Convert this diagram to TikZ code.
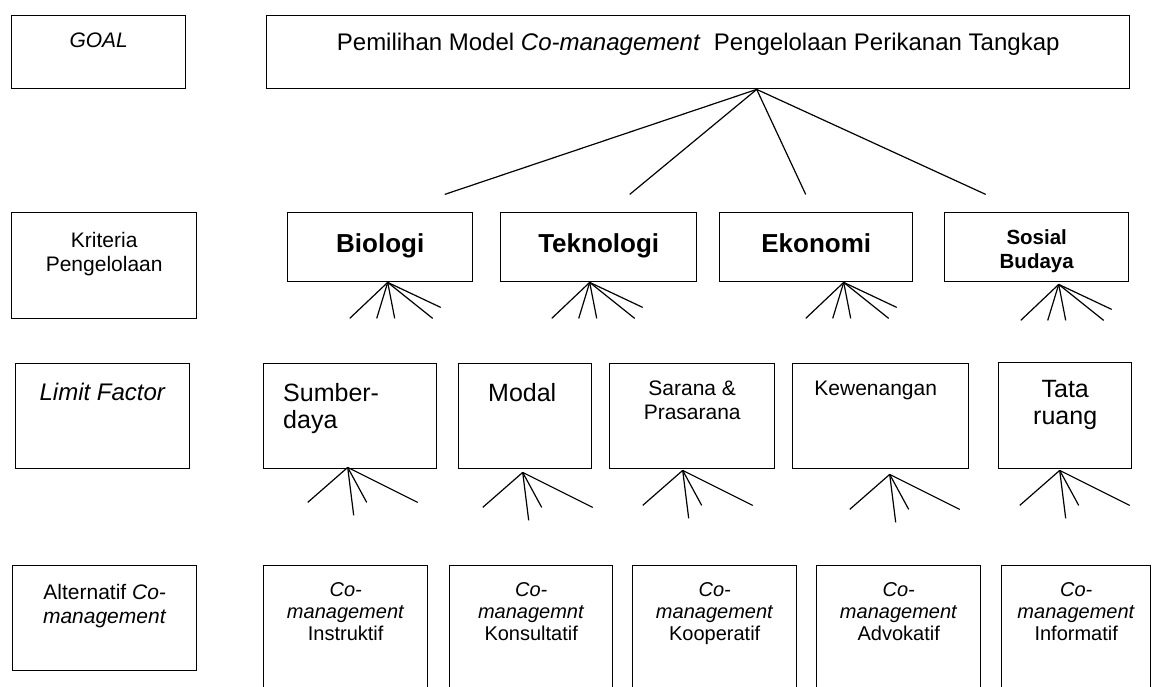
\documentclass[tikz,border=0pt]{standalone}
\usepackage{fontspec}
\setmainfont{Liberation Sans}
\usetikzlibrary{positioning}

% spread of lines under a box
\newcommand{\critfan}[1]{%
  \foreach \dx/\dy in {-38/36,-11/36,7/36,45/36,53/25}
    \draw[ln] (#1) -- ++(\dx,\dy);}
\newcommand{\limfan}[1]{%
  \foreach \dx/\dy in {-40/35,6/48,19/35,70/35}
    \draw[ln] (#1) -- ++(\dx,\dy);}

\begin{document}
\begin{tikzpicture}[x=1pt, y=-1pt,
  box/.style={draw, line width=1.4pt, inner sep=0pt, anchor=north west},
  txt/.style={inner sep=0pt, anchor=north, align=center},
  ln/.style={line width=1.2pt},
  lab/.style={txt, font=\fontsize{21}{24}\selectfont},
  head/.style={txt, font=\fontsize{24}{27}\selectfont},
  big/.style={txt, font=\fontsize{25}{27}\selectfont},
  crit/.style={txt, font=\fontsize{26}{28}\selectfont\bfseries},
  alt/.style={txt, font=\fontsize{20}{22}\selectfont},
]
\useasboundingbox (0,0) rectangle (1153,686);
\clip (0,0) rectangle (1153,686);

% row 1
\node[box, minimum width=174pt, minimum height=73pt] (goal) at (11,15) {};
\node[box, minimum width=863pt, minimum height=73pt] (main) at (266,15) {};
\node[lab, below=18pt of goal.north] {\textit{GOAL}};
\node[head, below=18pt of main.north] {Pemilihan Model \textit{Co-management}~ Pengelolaan Perikanan Tangkap};

% row 2
\node[box, minimum width=185pt, minimum height=106pt] (krit) at (11,212) {};
\node[box, minimum width=185pt, minimum height=69pt] (bio) at (287,212) {};
\node[box, minimum width=196pt, minimum height=69pt] (tek) at (500,212) {};
\node[box, minimum width=193pt, minimum height=69pt] (eko) at (719,212) {};
\node[box, minimum width=184pt, minimum height=69pt] (sos) at (944,212) {};
\node[lab, below=20pt of krit.north] {Kriteria\\Pengelolaan};
\node[crit, below=21pt of bio.north] {Biologi};
\node[crit, below=21pt of tek.north] {Teknologi};
\node[crit, below=21pt of eko.north] {Ekonomi};
\node[txt, font=\fontsize{20.5}{24}\selectfont\bfseries, below=17pt of sos.north] {Sosial\\Budaya};

% row 3
\node[box, minimum width=174pt, minimum height=105pt] (limit) at (15,363) {};
\node[box, minimum width=173pt, minimum height=105pt] (sd) at (263,363) {};
\node[box, minimum width=133pt, minimum height=105pt] (modal) at (458,363) {};
\node[box, minimum width=165pt, minimum height=105pt] (sarana) at (609,363) {};
\node[box, minimum width=176pt, minimum height=105pt] (kew) at (792,363) {};
\node[box, minimum width=133pt, minimum height=106pt] (tata) at (998,362) {};
\node[head, below=20pt of limit.north] {\textit{Limit Factor}};
\node[big, anchor=north west, align=left, below right=20pt and 20pt of sd.north west] {Sumber-\\daya};
\node[big, anchor=north west, below right=20pt and 30pt of modal.north west] {Modal};
\node[lab, below=18pt of sarana.north] {Sarana \&\\Prasarana};
\node[lab, below=18pt of kew.north, xshift=-5pt] {Kewenangan};
\node[big, below=18pt of tata.north] {Tata\\ruang};

% row 4
\node[box, minimum width=184pt, minimum height=105pt] (altbox) at (12,565) {};
\node[box, minimum width=164pt, minimum height=140pt] (ins) at (263,565) {};
\node[box, minimum width=163pt, minimum height=140pt] (kons) at (449,565) {};
\node[box, minimum width=164pt, minimum height=140pt] (koop) at (632,565) {};
\node[box, minimum width=164pt, minimum height=140pt] (adv) at (816,565) {};
\node[box, minimum width=149pt, minimum height=140pt] (inf) at (1001,565) {};
\node[lab, below=19pt of altbox.north] {Alternatif \textit{Co-}\\\textit{management}};
\node[alt, below=17pt of ins.north] {\textit{Co-}\\\textit{management}\\Instruktif};
\node[alt, below=17pt of kons.north] {\textit{Co-}\\\textit{managemnt}\\Konsultatif};
\node[alt, below=17pt of koop.north] {\textit{Co-}\\\textit{management}\\Kooperatif};
\node[alt, below=17pt of adv.north] {\textit{Co-}\\\textit{management}\\Advokatif};
\node[alt, below=17pt of inf.north] {\textit{Co-}\\\textit{management}\\Informatif};

% lines from goal
\coordinate (top) at ([xshift=58.5pt]main.south);
\foreach \dx in {-312,-127,49,229}
  \draw[ln] (top) -- ++(\dx,105);

% lines under criteria
\critfan{[xshift=7.5pt]bio.south}
\critfan{[xshift=-9pt]tek.south}
\critfan{[xshift=27.5pt]eko.south}
\critfan{[xshift=22pt,yshift=-2pt]sos.south}

% lines under limit factors
\limfan{[xshift=-2.5pt,yshift=2pt]sd.south}
\limfan{[xshift=-2.5pt,yshift=-3pt]modal.south}
\limfan{[xshift=-9.5pt,yshift=-1pt]sarana.south}
\limfan{[xshift=9pt,yshift=-5pt]kew.south}
\limfan{[xshift=-5.5pt,yshift=-1pt]tata.south}
\end{tikzpicture}
\end{document}
